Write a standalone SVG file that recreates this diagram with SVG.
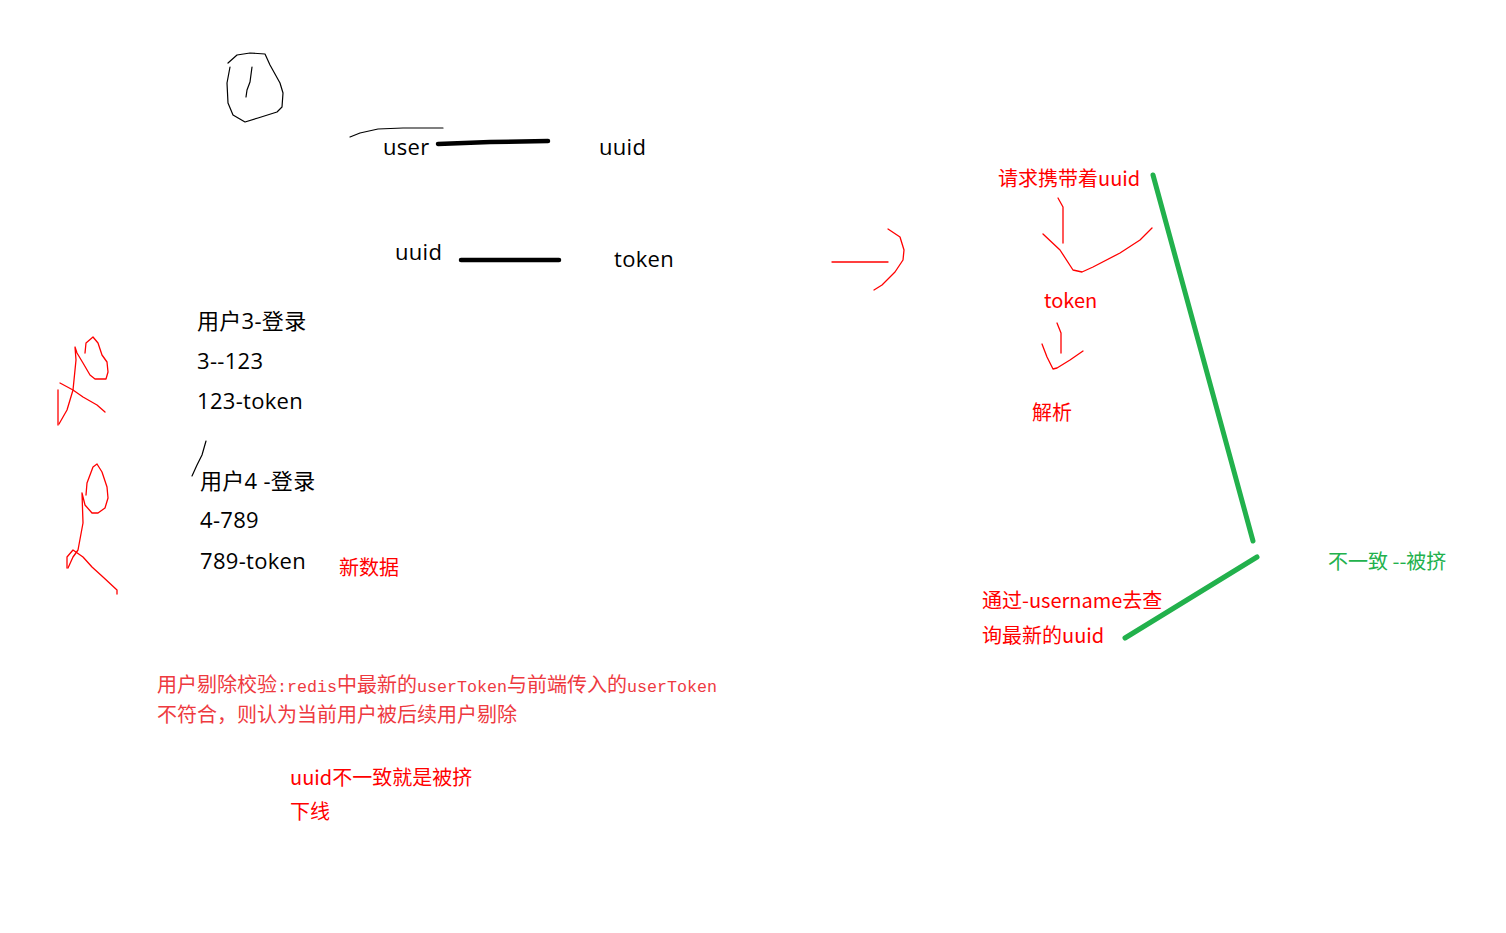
<svg xmlns="http://www.w3.org/2000/svg" width="1506" height="933" viewBox="0 0 1506 933">
<style>
.b{font-family:"Open Sans","Noto Sans CJK SC",sans-serif;font-size:22px;fill:#000;letter-spacing:0.3px}
.r{font-family:"Noto Sans CJK SC","Noto Sans",sans-serif;font-size:20px;fill:#ff0000}
.g{font-family:"Noto Sans CJK SC","Noto Sans",sans-serif;font-size:20px;fill:#22b14c}
.p{font-family:"Noto Sans CJK SC",sans-serif;font-size:20px;fill:#ee3a3f}
.m{font-family:"Liberation Mono",monospace;font-size:16.67px}
.thin{fill:none;stroke:#000;stroke-width:1.2;stroke-linecap:round;stroke-linejoin:round}
.red{fill:none;stroke:#ff0000;stroke-width:1.3;stroke-linecap:round;stroke-linejoin:round}
.thick{fill:none;stroke:#000;stroke-width:4.5;stroke-linecap:round}
.green{fill:none;stroke:#22b14c;stroke-width:5;stroke-linecap:round}
</style>
<rect width="1506" height="933" fill="#fff"/>
<g id="sketches">
<path class="thin" d="M228,63 L237,55 L250,53 L265,54 L270,65 L280,83 L283,93 L282,107 L277,112 L258,118 L245,122 L233,115 L228,103 L227,83 L230,67"/>
<path class="thin" d="M252,67 L250,82 L247,90 L246,97"/>
<path class="thin" d="M350,137 L360,133 L378,129 L403,128 L443,128"/>
<path class="thin" d="M206,441 L202,455 L197,465 L192,476"/>
<path class="red" d="M85,353 L86,343 L93,337 L98,343 L102,355 L107,362 L108,372 L106,379 L95,379 L90,375 L83,363 L77,353 L75,347 L76,360 L73,390 L67,410 L59,424"/>
<path class="red" d="M60,383 L73,390 L83,397 L97,405 L105,412"/>
<path class="red" d="M58,390 L58,425"/>
<path class="red" d="M86,495 L87,483 L93,467 L97,464 L102,472 L107,487 L108,498 L105,508 L98,513 L92,513 L85,505 L82,493 L83,523 L78,550 L73,557 L68,568"/>
<path class="red" d="M67,568 L67,557 L73,550 L83,557 L92,567 L103,577 L117,590 L117,594"/>
</g>
<g id="connectors">
<path class="thick" d="M438,144 L490,142 L548,141"/>
<path class="thick" d="M461,260 L559,260"/>
<path class="red" d="M832,262 L888,262"/>
<path class="red" d="M888,229 L900,237 L904,250 L903,260 L895,272 L882,285 L874,290"/>
<path class="red" d="M1058,198 L1063,207 L1063,243"/>
<path class="red" d="M1043,234 L1060,250 L1073,270 L1082,272 L1093,267 L1120,253 L1140,240 L1152,228"/>
<path class="red" d="M1057,323 L1061,333 L1061,353"/>
<path class="red" d="M1042,344 L1047,357 L1053,369 L1057,368 L1070,360 L1083,351"/>
<path class="green" d="M1153,175 L1253,541"/>
<path class="green" d="M1257,557 L1125,638"/>
</g>
<g id="user"><text class="b" x="383" y="155">user</text></g>
<g id="uuid1"><text class="b" x="599" y="155">uuid</text></g>
<g id="uuid2"><text class="b" x="395" y="260">uuid</text></g>
<g id="token1"><text class="b" x="614" y="267">token</text></g>
<g id="user3">
<text class="b" x="197" y="329">用户3-登录</text>
<text class="b" x="197" y="369">3--123</text>
<text class="b" x="197" y="409">123-token</text>
</g>
<g id="user4">
<text class="b" x="200" y="489">用户4 -登录</text>
<text class="b" x="200" y="528">4-789</text>
<text class="b" x="200" y="569">789-token</text>
<text class="r" x="339" y="575">新数据</text>
</g>
<g id="request"><text class="r" x="998" y="186">请求携带着uuid</text></g>
<g id="token2"><text class="r" x="1044" y="308">token</text></g>
<g id="parse"><text class="r" x="1032" y="420">解析</text></g>
<g id="query">
<text class="r" x="982" y="608">通过-username去查</text>
<text class="r" x="982" y="643">询最新的uuid</text>
</g>
<g id="mismatch"><text class="g" x="1328" y="569">不一致 --被挤</text></g>
<g id="note">
<text class="p" x="157" y="692">用户剔除校验<tspan class="m">:redis</tspan>中最新的<tspan class="m">userToken</tspan>与前端传入的<tspan class="m">userToken</tspan></text>
<text class="p" x="157" y="722">不符合，则认为当前用户被后续用户剔除</text>
</g>
<g id="kicked">
<text class="r" x="290" y="785">uuid不一致就是被挤</text>
<text class="r" x="290" y="819">下线</text>
</g>
</svg>
